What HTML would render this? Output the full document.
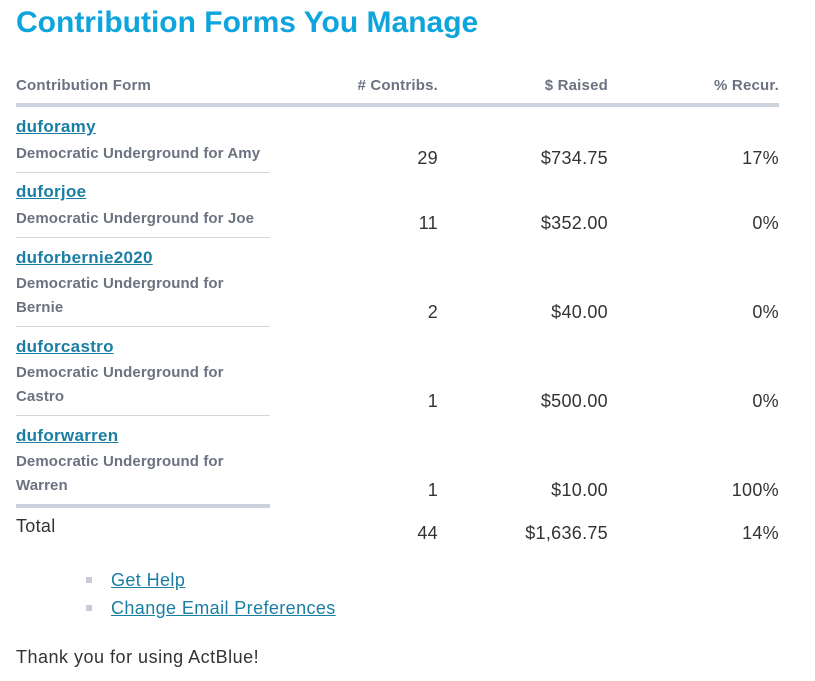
<!DOCTYPE html>
<html><head><style>
body{margin:0;width:815px;height:681px;background:#fff;font-family:"Liberation Sans",Arial,sans-serif;position:relative;overflow:hidden}
div{position:absolute;white-space:nowrap;line-height:20px}
.h{font-weight:bold;font-size:15px;color:#6b7280;letter-spacing:0.2px}
.l{font-weight:bold;font-size:17px;color:#1a7ea3;text-decoration:underline;left:16px;letter-spacing:0.3px}
.d{font-weight:bold;font-size:15px;color:#6b7280;left:16px;letter-spacing:0.1px}
.n{font-size:18px;color:#333;text-align:right;letter-spacing:0.3px}
.c1{right:377px}.c2{right:207px}.c3{right:36px}
.b{left:16px;width:254px;height:1px;background:#d4d7df}
.sq{width:6px;height:6px;background:#c8ccd8;left:86px}
.a{font-size:18px;color:#1a7ea3;text-decoration:underline;left:111px;letter-spacing:0.4px}
</style></head><body>
<div style="left:16px;top:5px;font-size:30px;line-height:36px;font-weight:bold;color:#0ea5dc">Contribution Forms You Manage</div>
<div class="h" style="left:16px;top:76px">Contribution Form</div>
<div class="h c1" style="top:76px"># Contribs.</div>
<div class="h c2" style="top:76px">$ Raised</div>
<div class="h c3" style="top:76px">% Recur.</div>
<div style="left:16px;width:763px;top:103px;height:4px;background:#cdd1dd"></div>

<div class="l" style="top:117px">duforamy</div>
<div class="d" style="top:144px">Democratic Underground for Amy</div>
<div class="b" style="top:172px"></div>
<div class="n c1" style="top:148px">29</div><div class="n c2" style="top:148px">$734.75</div><div class="n c3" style="top:148px">17%</div>

<div class="l" style="top:182px">duforjoe</div>
<div class="d" style="top:209px">Democratic Underground for Joe</div>
<div class="b" style="top:237px"></div>
<div class="n c1" style="top:213px">11</div><div class="n c2" style="top:213px">$352.00</div><div class="n c3" style="top:213px">0%</div>

<div class="l" style="top:248px">duforbernie2020</div>
<div class="d" style="top:274px">Democratic Underground for</div>
<div class="d" style="top:298px">Bernie</div>
<div class="b" style="top:326px"></div>
<div class="n c1" style="top:302px">2</div><div class="n c2" style="top:302px">$40.00</div><div class="n c3" style="top:302px">0%</div>

<div class="l" style="top:337px">duforcastro</div>
<div class="d" style="top:363px">Democratic Underground for</div>
<div class="d" style="top:387px">Castro</div>
<div class="b" style="top:415px"></div>
<div class="n c1" style="top:391px">1</div><div class="n c2" style="top:391px">$500.00</div><div class="n c3" style="top:391px">0%</div>

<div class="l" style="top:426px">duforwarren</div>
<div class="d" style="top:452px">Democratic Underground for</div>
<div class="d" style="top:476px">Warren</div>
<div style="left:16px;width:254px;top:504px;height:4px;background:#cdd1dd"></div>
<div class="n c1" style="top:480px">1</div><div class="n c2" style="top:480px">$10.00</div><div class="n c3" style="top:480px">100%</div>

<div class="n" style="left:16px;top:516px">Total</div>
<div class="n c1" style="top:523px">44</div><div class="n c2" style="top:523px">$1,636.75</div><div class="n c3" style="top:523px">14%</div>

<div class="sq" style="top:577px"></div>
<div class="a" style="top:570px">Get Help</div>
<div class="sq" style="top:605px"></div>
<div class="a" style="top:598px">Change Email Preferences</div>
<div style="left:16px;top:647px;font-size:18px;color:#333;letter-spacing:0.5px">Thank you for using ActBlue!</div>
</body></html>
